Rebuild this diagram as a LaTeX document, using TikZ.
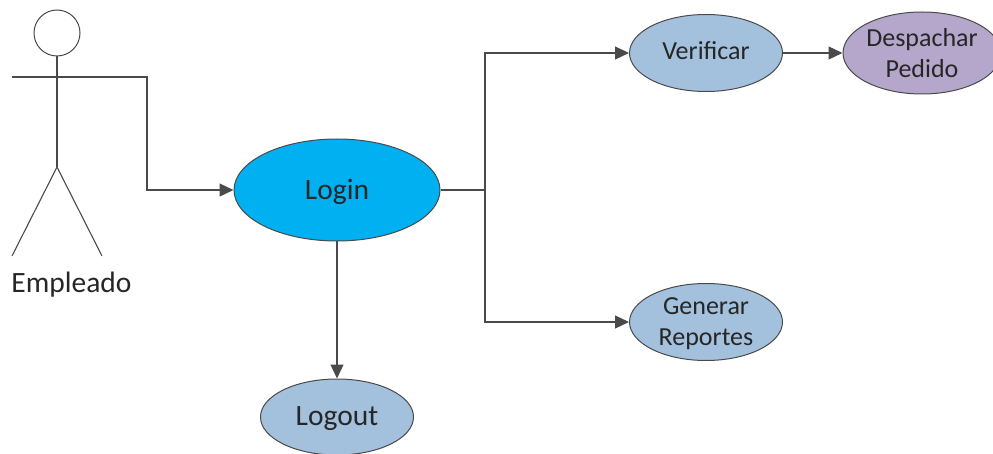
\documentclass[tikz,border=0pt]{standalone}
\usepackage{fontspec}
\setmainfont{Carlito}
\usetikzlibrary{shapes.geometric,arrows.meta}
\definecolor{linec}{HTML}{4A4A4A}
\definecolor{bluec}{HTML}{A3C1DD}
\definecolor{loginc}{HTML}{00B0F0}
\definecolor{purplec}{HTML}{B4A7CB}
\definecolor{textc}{HTML}{262626}
\newcommand{\nudge}[2]{\raisebox{#1}[\height][\depth]{#2}}
\tikzset{
  usecase/.style={draw=linec,line width=1pt,ellipse,inner sep=0pt,align=center,text=textc,font=\fontsize{26}{31}\selectfont,fill=bluec},
  bigcase/.style={usecase,font=\fontsize{29.5}{32}\selectfont},
  conn/.style={draw=linec,line width=1.1pt,-{Triangle[length=14pt,width=13pt]}},
  stick/.style={draw=linec,line width=1.1pt}
}
\begin{document}
\begin{tikzpicture}[x=1pt,y=-1pt]
\useasboundingbox (0,0) rectangle (993,454);
\clip (0,0) rectangle (993,454);
\node[bigcase,fill=loginc,minimum width=206pt,minimum height=102pt] (login) at (337,190) {\nudge{-2pt}{Login}};
\node[usecase,minimum width=153pt,minimum height=77pt] (verificar) at (706,53) {\nudge{2pt}{Verificar}};
\node[usecase,fill=purplec,minimum width=158pt,minimum height=82pt] (despachar) at (922,53) {Despachar\\Pedido};
\node[usecase,minimum width=153pt,minimum height=77pt] (generar) at (706,322) {\nudge{-2pt}{Generar}\\\nudge{-2pt}{Reportes}};
\node[bigcase,minimum width=153pt,minimum height=76pt] (logout) at (337,417) {\nudge{-2pt}{Logout}};
% actor
\node[circle,draw=linec,line width=1pt,minimum size=46pt,inner sep=0pt] (head) at (57,33) {};
\coordinate (armL) at (12,77);
\coordinate (armR) at (101,77);
\coordinate (hip) at (57,167);
\coordinate (footL) at (12,256);
\coordinate (footR) at (102,256);
\draw[stick] (head.south) -- (hip);
\draw[stick] (armL) -- (armR);
\draw[stick] (footL) -- (hip) -- (footR);
\node[text=textc,font=\fontsize{29.5}{32}\selectfont] (empleado) at (71.5,285) {Empleado};
% connectors
\coordinate (bend) at (485,190);
\draw[conn] (armR) -| (147,190) -- (login.west);
\draw[conn] (login.east) -- (bend) |- (verificar.west);
\draw[conn] (bend) |- (generar.west);
\draw[conn] (verificar.east) -- (despachar.west);
\draw[conn] (login.south) -- (logout.north);
\end{tikzpicture}
\end{document}
